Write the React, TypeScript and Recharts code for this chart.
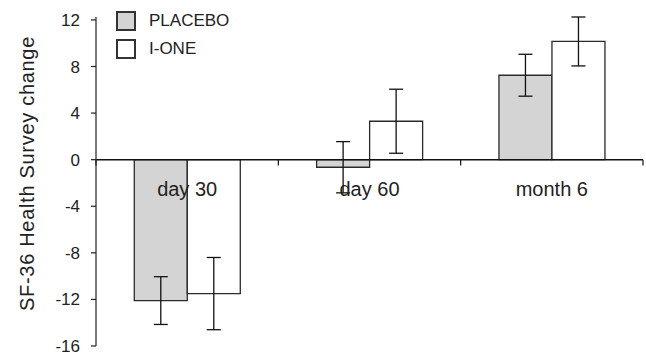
import {
  BarChart,
  Bar,
  ErrorBar,
  XAxis,
  YAxis,
  Legend,
  ReferenceLine,
} from "recharts";

// values
const categories = ["day 30", "day 60", "month 6"];
const seriesNames = ["PLACEBO", "I-ONE"];
const placebo = [-12.1, -0.65, 7.25];
const placeboErr = [2.05, 2.2, 1.8];
const ione = [-11.5, 3.3, 10.15];
const ioneErr = [3.1, 2.75, 2.1];
const yTicks = [12, 8, 4, 0, -4, -8, -12, -16];

const data = categories.map((name, i) => ({
  name,
  placebo: placebo[i],
  placeboErr: placeboErr[i],
  ione: ione[i],
  ioneErr: ioneErr[i],
}));

const FONT = "'Liberation Sans', Arial, Helvetica, sans-serif";
const INK = "#222";

const LegendBox = ({ payload }: any) => {
  const items = [...(payload || [])].sort(
    (a: any, b: any) => seriesNames.indexOf(a.value) - seriesNames.indexOf(b.value)
  );
  return (
    <div style={{ fontFamily: FONT }}>
      {items.map((p: any) => (
        <div
          key={p.value}
          style={{ display: "flex", alignItems: "center", height: 28.3 }}
        >
          <div
            style={{
              width: 20,
              height: 20,
              boxSizing: "border-box",
              border: "2px solid #333",
              background: p.payload.fill,
            }}
          />
          <span style={{ marginLeft: 13, fontSize: 17, color: INK }}>
            {p.value}
          </span>
        </div>
      ))}
    </div>
  );
};

const YLabel = ({ viewBox }: any) => {
  const x = viewBox.x + 27;
  const y = viewBox.y + viewBox.height / 2 - 8;
  return (
    <text
      x={x}
      y={y}
      transform={`rotate(-90 ${x} ${y})`}
      textAnchor="middle"
      dominantBaseline="central"
      fontSize={20}
      letterSpacing={0.7}
      fill={INK}
      fontFamily={FONT}
    >
      SF-36 Health Survey change
    </text>
  );
};

export default function App() {
  return (
    <div style={{ position: "absolute", left: 0, top: 0 }}>
      <BarChart
        width={646}
        height={356}
        data={data}
        margin={{ top: 17, right: 3, bottom: 10, left: 0 }}
        barCategoryGap="21%"
        barGap={0}
        style={{ fontFamily: FONT }}
      >
        <XAxis dataKey="name" hide />
        <YAxis
          domain={[-16, 12]}
          ticks={yTicks}
          interval={0}
          width={96}
          tickSize={5}
          tickMargin={11}
          axisLine={{ stroke: INK, strokeWidth: 1.2 }}
          tickLine={{ stroke: INK, strokeWidth: 1.2 }}
          tick={{ fontSize: 17, fill: INK }}
          label={<YLabel />}
        />
        <Legend
          layout="vertical"
          align="center"
          verticalAlign="middle"
          content={<LegendBox />}
          wrapperStyle={{ left: 116, top: 7, width: "auto" }}
        />
        <Bar
          dataKey="placebo"
          name="PLACEBO"
          fill="#d3d4d3"
          stroke="#2a2a2a"
          strokeWidth={1.3}
          isAnimationActive={false}
        >
          <ErrorBar dataKey="placeboErr" width={7} stroke="#111" strokeWidth={1.3} />
        </Bar>
        <Bar
          dataKey="ione"
          name="I-ONE"
          fill="#ffffff"
          stroke="#2a2a2a"
          strokeWidth={1.3}
          isAnimationActive={false}
        >
          <ErrorBar dataKey="ioneErr" width={7} stroke="#111" strokeWidth={1.3} />
        </Bar>
        <ReferenceLine y={0} stroke="#111" strokeWidth={1.5} />
        {categories.map((c) => (
          <ReferenceLine
            key={"t" + c}
            segment={[
              { x: c, y: 0 },
              { x: c, y: -0.5 },
            ]}
            position="start"
            stroke="#111"
            strokeWidth={1.2}
          />
        ))}
        <ReferenceLine
          segment={[
            { x: categories[categories.length - 1], y: 0 },
            { x: categories[categories.length - 1], y: -0.5 },
          ]}
          position="end"
          stroke="#111"
          strokeWidth={1.2}
        />
        {categories.map((c) => (
          <ReferenceLine
            key={"l" + c}
            segment={[
              { x: c, y: 0 },
              { x: c, y: -5.1 },
            ]}
            stroke="none"
            label={{
              value: c,
              position: "center",
              fontSize: 20,
              fill: INK,
            }}
          />
        ))}
      </BarChart>
    </div>
  );
}
